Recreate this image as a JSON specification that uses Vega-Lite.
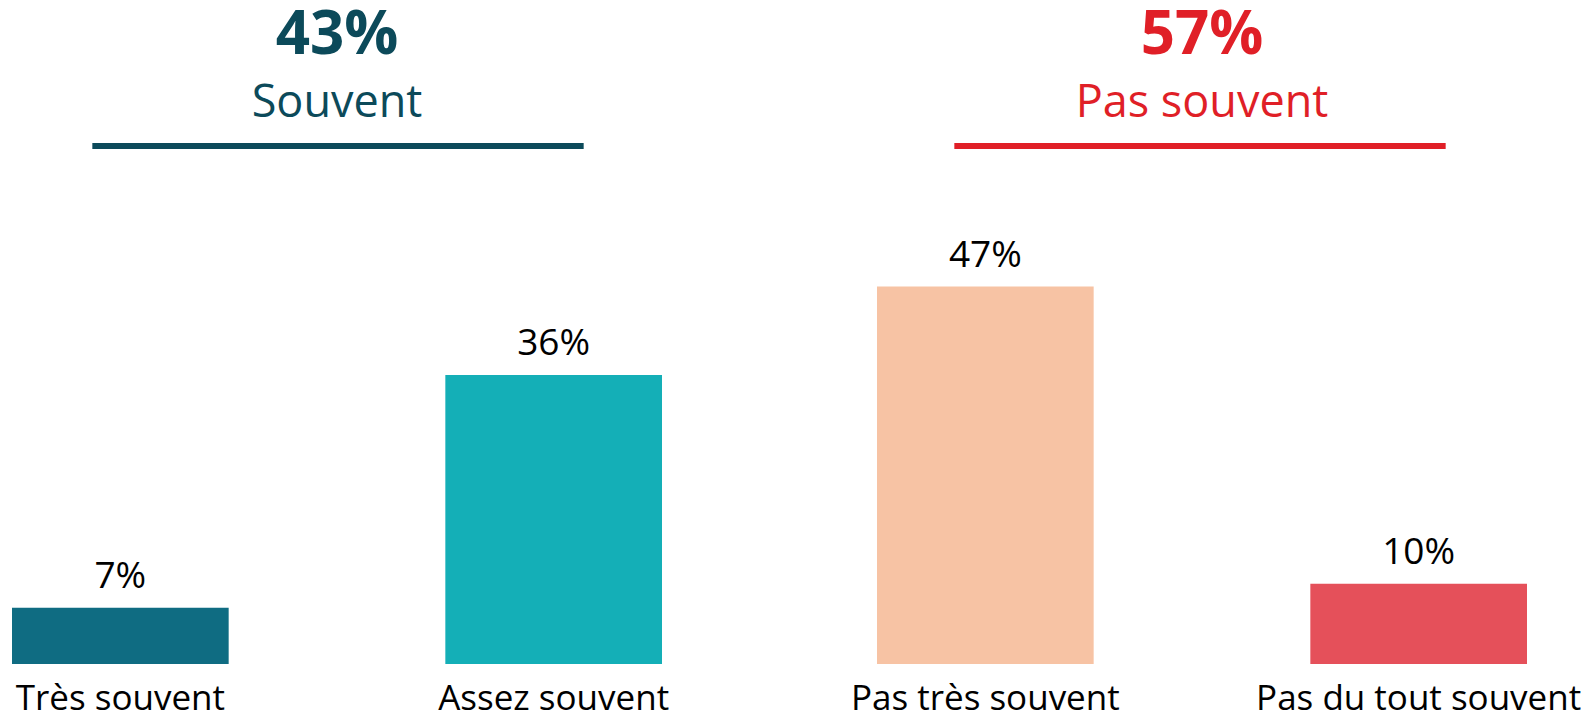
{
  "$schema": "https://vega.github.io/schema/vega-lite/v6.json",
  "background": "white",
  "padding": {"top": 6, "left": 0, "right": 0, "bottom": 0},
  "bounds": "flush",
  "spacing": 191,
  "config": {"view": {"stroke": null}, "font": "Open Sans"},
  "datasets": {
    "bars": [
      {"group": "Souvent", "category": "Très souvent", "value": 0.07},
      {"group": "Souvent", "category": "Assez souvent", "value": 0.36},
      {"group": "Pas souvent", "category": "Pas très souvent", "value": 0.47},
      {"group": "Pas souvent", "category": "Pas du tout souvent", "value": 0.10}
    ],
    "groups": [
      {"group": "Souvent", "from": "Très souvent", "to": "Assez souvent"},
      {"group": "Pas souvent", "from": "Pas très souvent", "to": "Pas du tout souvent"}
    ]
  },
  "hconcat": [
    {
      "width": 674,
      "height": 518,
      "title": {"text": "43%", "subtitle": "Souvent", "anchor": "middle", "frame": "group", "font": "Open Sans", "fontSize": 60, "fontWeight": "bold", "color": "#0C4A5A", "subtitleFont": "Open Sans", "subtitleFontSize": 45, "subtitleFontWeight": "normal", "subtitleColor": "#0C4A5A", "subtitlePadding": 14, "offset": 16},
      "layer": [
        {
          "data": {"name": "bars"},
          "transform": [{"filter": "datum.group === 'Souvent'"}],
          "mark": {"type": "bar"},
          "encoding": {
            "x": {"field": "category", "type": "nominal", "scale": {"domain": ["Très souvent", "Assez souvent"], "paddingInner": 0.5, "paddingOuter": 0.0277}, "axis": {"title": null, "orient": "bottom", "domain": false, "ticks": false, "tickSize": 0, "labelFont": "Open Sans", "labelFontSize": 35, "labelColor": "#000000", "labelPadding": 17, "labelLimit": 0, "labelAngle": 0, "labelOverlap": false}},
            "y": {"field": "value", "type": "quantitative", "scale": {"domain": [0, 0.645], "nice": false, "zero": true}, "axis": null},
            "color": {"field": "category", "type": "nominal", "scale": {"domain": ["Très souvent", "Assez souvent", "Pas très souvent", "Pas du tout souvent"], "range": ["#0F6C82", "#14AFB7", "#F7C3A4", "#E5505A"]}, "legend": null}
          }
        },
        {
          "data": {"name": "bars"},
          "transform": [{"filter": "datum.group === 'Souvent'"}],
          "mark": {"type": "text", "baseline": "alphabetic", "dy": -20, "fontSize": 37, "font": "Open Sans", "color": "#000000"},
          "encoding": {
            "x": {"field": "category", "type": "nominal", "axis": {"title": null, "orient": "bottom", "domain": false, "ticks": false, "tickSize": 0, "labelFont": "Open Sans", "labelFontSize": 35, "labelColor": "#000000", "labelPadding": 17, "labelLimit": 0, "labelAngle": 0, "labelOverlap": false}},
            "y": {"field": "value", "type": "quantitative", "axis": null},
            "text": {"field": "value", "type": "quantitative", "format": ".0%"}
          }
        },
        {
          "data": {"name": "groups"},
          "transform": [{"filter": "datum.group === 'Souvent'"}],
          "mark": {"type": "rule", "strokeWidth": 6, "color": "#0C4A5A", "xOffset": -28, "x2Offset": 30},
          "encoding": {
            "x": {"field": "from", "type": "nominal", "axis": {"title": null, "orient": "bottom", "domain": false, "ticks": false, "tickSize": 0, "labelFont": "Open Sans", "labelFontSize": 35, "labelColor": "#000000", "labelPadding": 17, "labelLimit": 0, "labelAngle": 0, "labelOverlap": false}},
            "x2": {"field": "to"},
            "y": {"datum": 0.645, "type": "quantitative", "axis": null}
          }
        }
      ]
    },
    {
      "width": 674,
      "height": 518,
      "title": {"text": "57%", "subtitle": "Pas souvent", "anchor": "middle", "frame": "group", "font": "Open Sans", "fontSize": 60, "fontWeight": "bold", "color": "#E01F27", "subtitleFont": "Open Sans", "subtitleFontSize": 45, "subtitleFontWeight": "normal", "subtitleColor": "#E01F27", "subtitlePadding": 14, "offset": 16},
      "layer": [
        {
          "data": {"name": "bars"},
          "transform": [{"filter": "datum.group === 'Pas souvent'"}],
          "mark": {"type": "bar"},
          "encoding": {
            "x": {"field": "category", "type": "nominal", "scale": {"domain": ["Pas très souvent", "Pas du tout souvent"], "paddingInner": 0.5, "paddingOuter": 0.0277}, "axis": {"title": null, "orient": "bottom", "domain": false, "ticks": false, "tickSize": 0, "labelFont": "Open Sans", "labelFontSize": 35, "labelColor": "#000000", "labelPadding": 17, "labelLimit": 0, "labelAngle": 0, "labelOverlap": false}},
            "y": {"field": "value", "type": "quantitative", "scale": {"domain": [0, 0.645], "nice": false, "zero": true}, "axis": null},
            "color": {"field": "category", "type": "nominal", "scale": {"domain": ["Très souvent", "Assez souvent", "Pas très souvent", "Pas du tout souvent"], "range": ["#0F6C82", "#14AFB7", "#F7C3A4", "#E5505A"]}, "legend": null}
          }
        },
        {
          "data": {"name": "bars"},
          "transform": [{"filter": "datum.group === 'Pas souvent'"}],
          "mark": {"type": "text", "baseline": "alphabetic", "dy": -20, "fontSize": 37, "font": "Open Sans", "color": "#000000"},
          "encoding": {
            "x": {"field": "category", "type": "nominal", "axis": {"title": null, "orient": "bottom", "domain": false, "ticks": false, "tickSize": 0, "labelFont": "Open Sans", "labelFontSize": 35, "labelColor": "#000000", "labelPadding": 17, "labelLimit": 0, "labelAngle": 0, "labelOverlap": false}},
            "y": {"field": "value", "type": "quantitative", "axis": null},
            "text": {"field": "value", "type": "quantitative", "format": ".0%"}
          }
        },
        {
          "data": {"name": "groups"},
          "transform": [{"filter": "datum.group === 'Pas souvent'"}],
          "mark": {"type": "rule", "strokeWidth": 6, "color": "#E01F27", "xOffset": -31, "x2Offset": 27},
          "encoding": {
            "x": {"field": "from", "type": "nominal", "axis": {"title": null, "orient": "bottom", "domain": false, "ticks": false, "tickSize": 0, "labelFont": "Open Sans", "labelFontSize": 35, "labelColor": "#000000", "labelPadding": 17, "labelLimit": 0, "labelAngle": 0, "labelOverlap": false}},
            "x2": {"field": "to"},
            "y": {"datum": 0.645, "type": "quantitative", "axis": null}
          }
        }
      ]
    }
  ]
}
